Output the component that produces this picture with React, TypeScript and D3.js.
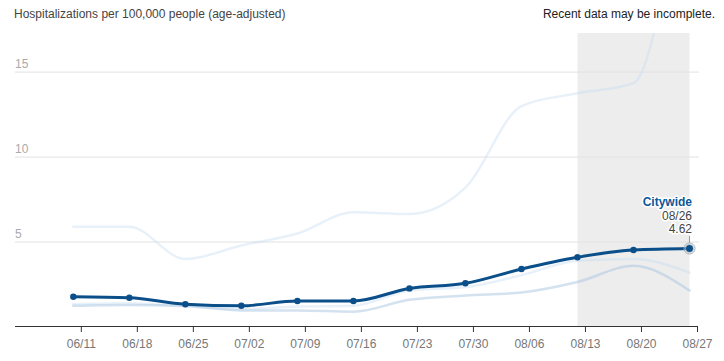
import React from "react";
import * as d3 from "d3";

const dates = [
  "2022-06-10", "2022-06-17", "2022-06-24", "2022-07-01", "2022-07-08", "2022-07-15",
  "2022-07-22", "2022-07-29", "2022-08-05", "2022-08-12", "2022-08-19", "2022-08-26",
];
const citywide = [1.78, 1.72, 1.34, 1.25, 1.53, 1.53, 2.27, 2.57, 3.41, 4.1, 4.53, 4.62];
const areaHigh = [5.9, 5.9, 4.0, 4.8, 5.5, 6.75, 6.65, 8.2, 13.0, 13.75, 14.35, 30];
const areaLow = [1.25, 1.3, 1.25, 0.97, 0.97, 0.9, 1.6, 1.85, 2.03, 2.65, 3.6, 2.15];
const areaMid = [1.35, 1.4, 1.2, 1.05, 1.2, 1.25, 2.15, 2.35, 3.05, 3.9, 4.0, 3.2];
const yTicks = [5, 10, 15];
const title = "Hospitalizations per 100,000 people (age-adjusted)";
const note = "Recent data may be incomplete.";
const incompleteFrom = "2022-08-12";

const W = 724;
const H = 361;
const FONT = "Arial, 'Liberation Sans', sans-serif";

const parse = d3.utcParse("%Y-%m-%d");
const fmt = d3.utcFormat("%m/%d");

export default function App() {
  const x = d3
    .scaleUtc()
    .domain([parse("2022-06-03")!, parse("2022-08-27")!])
    .range([17.3, 697.5]);
  const y = d3.scaleLinear().domain([0, 17.3]).range([327, 33]);

  const xTicks = d3.utcSaturday.range(parse("2022-06-11")!, parse("2022-08-28")!);
  const pts = dates.map((d) => parse(d)!);

  const line = (vals: number[]) =>
    d3
      .line<number>()
      .x((_, i) => x(pts[i]))
      .y((v) => y(v))
      .curve(d3.curveMonotoneX)(vals) || "";

  const last = pts.length - 1;
  const lx = x(pts[last]);
  const ly = y(citywide[last]);
  const halo = { paintOrder: "stroke", stroke: "#fff", strokeWidth: 3, strokeLinejoin: "round" } as any;

  return (
    <svg
      width={W}
      height={H}
      style={{ position: "absolute", left: 0, top: 0, fontFamily: FONT }}
    >
      <defs>
        <clipPath id="plot">
          <rect x={0} y={33} width={W} height={294} />
        </clipPath>
      </defs>
      <rect width={W} height={H} fill="#fff" />

      {/* incomplete data shading */}
      <rect
        x={x(parse(incompleteFrom)!)}
        y={33}
        width={lx - x(parse(incompleteFrom)!)}
        height={326 - 33}
        fill="#ededed"
      />

      {/* grid */}
      {yTicks.map((t) => (
        <g key={t}>
          <line x1={15} x2={699} y1={y(t)} y2={y(t)} stroke="#e2e2e2" strokeWidth={1} />
          <text x={15} y={y(t) - 4} fontSize={12} fill="#aaa">
            {t}
          </text>
        </g>
      ))}

      {/* x axis */}
      <line x1={15} x2={698} y1={326.5} y2={326.5} stroke="#333" strokeWidth={1} />
      {xTicks.map((d) => (
        <g key={+d} transform={`translate(${x(d)},0)`}>
          <line y1={326.5} y2={332} stroke="#333" />
          <text y={348} textAnchor="middle" fontSize={12} fill="#777">
            {fmt(d)}
          </text>
        </g>
      ))}

      {/* other series */}
      <g clipPath="url(#plot)" fill="none" strokeLinecap="round">
        <path d={line(areaHigh)} stroke="#c6dbef" strokeOpacity={0.4} strokeWidth={2.5} />
        <path d={line(areaMid)} stroke="#c6dbef" strokeOpacity={0.4} strokeWidth={2.5} />
        <path d={line(areaLow)} stroke="#a9c6e2" strokeOpacity={0.5} strokeWidth={2.5} />
      </g>

      {/* citywide */}
      <path d={line(citywide)} fill="none" stroke="#0b4f8a" strokeWidth={3} />
      {citywide.map((v, i) => (
        <circle key={i} cx={x(pts[i])} cy={y(v)} r={3.2} fill="#0b4f8a" />
      ))}
      <circle cx={lx} cy={ly} r={5.5} fill="none" stroke="#aaa" strokeWidth={1} />
      <circle cx={lx} cy={ly} r={4} fill="#0b4f8a" stroke="#fff" strokeWidth={0.5} />
      <line x1={lx} x2={lx} y1={236} y2={ly - 6} stroke="#999" />

      <text x={692} y={206} textAnchor="end" fontSize={12} fontWeight="bold" fill="#0b5797" style={halo}>
        Citywide
      </text>
      <text x={692} y={220} textAnchor="end" fontSize={12} fill="#444" style={halo}>
        {fmt(pts[last])}
      </text>
      <text x={692} y={233} textAnchor="end" fontSize={12} fill="#444" style={halo}>
        {citywide[last].toFixed(2)}
      </text>

      <text x={14} y={18} fontSize={12} fill="#444">
        {title}
      </text>
      <text x={715} y={18} textAnchor="end" fontSize={12} fill="#222">
        {note}
      </text>
    </svg>
  );
}
